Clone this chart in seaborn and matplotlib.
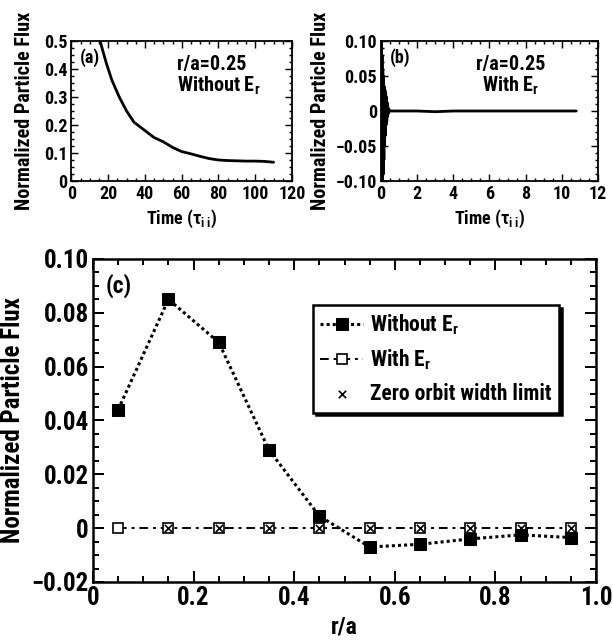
import matplotlib
matplotlib.use("Agg")
import matplotlib.pyplot as plt
from matplotlib import font_manager
from matplotlib.ticker import MultipleLocator
import pandas as pd
import seaborn as sns

# Panel (a): flux vs time at r/a=0.25, without Er
time_a = [14, 16, 19, 22, 26, 30, 34, 40, 45, 50, 55, 60, 65, 70,
          75, 80, 85, 90, 95, 100, 105, 110]
flux_a = [0.53, 0.49, 0.42, 0.36, 0.30, 0.25, 0.21, 0.18, 0.155, 0.14,
          0.12, 0.105, 0.097, 0.088, 0.080, 0.075, 0.073, 0.072, 0.071,
          0.071, 0.070, 0.067]

# Panel (b): flux vs time at r/a=0.25, with Er
time_b = [0.00, 0.02, 0.04, 0.06, 0.08, 0.10, 0.12, 0.14, 0.16, 0.18,
          0.20, 0.22, 0.24, 0.26, 0.28, 0.30, 0.32, 0.34, 0.36, 0.38,
          0.40, 0.45, 0.5, 1, 2, 3, 4, 5, 6, 7, 8, 9, 10, 10.8]
flux_b = [0.0, 0.10, -0.11, 0.08, -0.11, 0.06, -0.09, 0.05, -0.07, 0.035,
          -0.05, 0.03, -0.035, 0.025, -0.02, 0.02, -0.015, 0.012, -0.008,
          0.006, -0.004, 0.002, 0.0, 0.0, 0.0, -0.001, 0.0, 0.0, 0.0, 0.0,
          0.0, 0.0, 0.0, 0.0]

# Panel (c): flux profile vs r/a
r_a = [0.05, 0.15, 0.25, 0.35, 0.45, 0.55, 0.65, 0.75, 0.85, 0.95]
flux_without_er = [0.044, 0.085, 0.069, 0.029, 0.0045, -0.007, -0.006,
                   -0.004, -0.0025, -0.0035]
flux_with_er = [0, 0, 0, 0, 0, 0, 0, 0, 0, 0]
r_a_zero_orbit = [0.15, 0.25, 0.35, 0.45, 0.55, 0.65, 0.75, 0.85, 0.95]
flux_zero_orbit = [0, 0, 0, 0, 0, 0, 0, 0, 0]

# pick a narrow bold sans if one is installed
names = {f.name for f in font_manager.fontManager.ttflist}
narrow = None
for cand in ['Liberation Sans Narrow', 'Roboto Condensed', 'Open Sans Condensed',
             'DejaVu Sans Condensed', 'Roboto', 'Liberation Sans']:
    if cand in names:
        narrow = cand
        break
if narrow is None:
    narrow = 'DejaVu Sans'

sns.set_style("ticks")
plt.rcParams['font.family'] = [narrow, 'DejaVu Sans']
plt.rcParams['font.weight'] = 'bold'
plt.rcParams['font.stretch'] = 'condensed'
plt.rcParams['axes.labelweight'] = 'bold'
plt.rcParams['text.color'] = 'black'
plt.rcParams['axes.labelcolor'] = 'black'
plt.rcParams['mathtext.fontset'] = 'custom'
plt.rcParams['mathtext.rm'] = narrow + ':bold'
plt.rcParams['mathtext.it'] = narrow + ':bold'
plt.rcParams['mathtext.bf'] = narrow + ':bold'


def style_axes(ax, lw, fs, major_len, minor_len):
    for s in ax.spines.values():
        s.set_linewidth(lw)
        s.set_color('black')
    ax.tick_params(which='both', direction='in', top=True, right=True,
                   colors='black', labelsize=fs, width=lw * 0.8)
    ax.tick_params(which='major', length=major_len, pad=3)
    ax.tick_params(which='minor', length=minor_len)
    for lab in ax.get_xticklabels() + ax.get_yticklabels():
        lab.set_fontweight('bold')


fig = plt.figure(figsize=(6.13, 6.42), dpi=100)
ax_a = fig.add_axes([0.1166, 0.7181, 0.3597, 0.218])
ax_b = fig.add_axes([0.6215, 0.7181, 0.3540, 0.218])
ax_c = fig.add_axes([0.1517, 0.0935, 0.8206, 0.5031])

# (a)
df_a = pd.DataFrame({'t': time_a, 'flux': flux_a})
sns.lineplot(data=df_a, x='t', y='flux', ax=ax_a, color='black', lw=2,
             sort=False, estimator=None)
ax_a.set_xlim(0, 120)
ax_a.set_ylim(0, 0.5)
ax_a.xaxis.set_major_locator(MultipleLocator(20))
ax_a.xaxis.set_minor_locator(MultipleLocator(5))
ax_a.yaxis.set_minor_locator(MultipleLocator(0.025))
ax_a.set_yticks([0, 0.1, 0.2, 0.3, 0.4, 0.5], ['0', '0.1', '0.2', '0.3', '0.4', '0.5'])
style_axes(ax_a, 1.3, 13, 5, 2.5)
ax_a.set_xlabel(r'Time ($\tau_{\rm i\ i}$)', fontsize=13, labelpad=3)
ax_a.set_ylabel('Normalized Particle Flux', fontsize=14.5, labelpad=7)
ax_a.text(0.04, 0.95, '(a)', transform=ax_a.transAxes, fontsize=13,
          fontweight='bold', va='top', ha='left')
ax_a.text(0.48, 0.9, 'r/a=0.25\nWithout E$_{\\rm r}$', transform=ax_a.transAxes,
          fontsize=14.5, fontweight='bold', va='top', ha='left',
          multialignment='left', linespacing=1.05)

# (b)
df_b = pd.DataFrame({'t': time_b, 'flux': flux_b})
sns.lineplot(data=df_b, x='t', y='flux', ax=ax_b, color='black', lw=2,
             sort=False, estimator=None)
ax_b.set_xlim(0, 12)
ax_b.set_ylim(-0.10, 0.10)
ax_b.xaxis.set_major_locator(MultipleLocator(2))
ax_b.xaxis.set_minor_locator(MultipleLocator(0.5))
ax_b.yaxis.set_minor_locator(MultipleLocator(0.01))
ax_b.set_yticks([-0.10, -0.05, 0, 0.05, 0.10],
                ['\u22120.10', '\u22120.05', '0', '0.05', '0.10'])
style_axes(ax_b, 1.3, 13, 5, 2.5)
ax_b.set_xlabel(r'Time ($\tau_{\rm i\ i}$)', fontsize=13, labelpad=3)
ax_b.set_ylabel('Normalized Particle Flux', fontsize=14.5, labelpad=4)
ax_b.text(0.04, 0.95, '(b)', transform=ax_b.transAxes, fontsize=13,
          fontweight='bold', va='top', ha='left')
ax_b.text(0.60, 0.9, 'r/a=0.25\nWith E$_{\\rm r}$', transform=ax_b.transAxes,
          fontsize=14.5, fontweight='bold', va='top', ha='center', linespacing=1.05)

# (c)
df_c = pd.DataFrame({'r_a': r_a, 'without': flux_without_er, 'with': flux_with_er})
df_z = pd.DataFrame({'r_a': r_a_zero_orbit, 'zero': flux_zero_orbit})
sns.lineplot(data=df_c, x='r_a', y='with', ax=ax_c, color='black', lw=1.4,
             linestyle=(0, (4.5, 2.5, 1.5, 2.5)), marker='s', markersize=7,
             markerfacecolor='white', markeredgecolor='black',
             markeredgewidth=1.2, label='With E$_{\\rm r}$',
             sort=False, estimator=None)
sns.lineplot(data=df_c, x='r_a', y='without', ax=ax_c, color='black', lw=2.2,
             linestyle=(0, (1, 1)), marker='s', markersize=8.5,
             markerfacecolor='black', markeredgecolor='black',
             label='Without E$_{\\rm r}$', sort=False, estimator=None)
sns.scatterplot(data=df_z, x='r_a', y='zero', ax=ax_c, marker='x', s=28,
                color='black', linewidth=1.2, zorder=4,
                label='Zero orbit width limit')
ax_c.set_xlim(0, 1.0)
ax_c.set_ylim(-0.02, 0.10)
ax_c.xaxis.set_minor_locator(MultipleLocator(0.05))
ax_c.yaxis.set_minor_locator(MultipleLocator(0.005))
ax_c.set_xticks([0, 0.2, 0.4, 0.6, 0.8, 1.0], ['0', '0.2', '0.4', '0.6', '0.8', '1.0'])
ax_c.set_yticks([-0.02, 0, 0.02, 0.04, 0.06, 0.08, 0.10],
                ['\u22120.02', '0', '0.02', '0.04', '0.06', '0.08', '0.10'])
style_axes(ax_c, 1.8, 18, 8, 4)
ax_c.set_xlabel('r/a', fontsize=17, labelpad=4)
ax_c.set_ylabel('Normalized Particle Flux', fontsize=18, labelpad=5)
ax_c.text(0.025, 0.955, '(c)', transform=ax_c.transAxes, fontsize=17,
          fontweight='bold', va='top', ha='left')

handles, labels = ax_c.get_legend_handles_labels()
order = [1, 0, 2]
leg = ax_c.legend([handles[i] for i in order], [labels[i] for i in order],
                  loc='upper left', bbox_to_anchor=(0.437, 0.858),
                  fontsize=15.5, frameon=True, fancybox=False,
                  shadow={'color': 'black', 'alpha': 1},
                  handlelength=2.0, handletextpad=0.3, labelspacing=0.5,
                  borderpad=0.35, borderaxespad=0)
leg.get_frame().set_edgecolor('black')
leg.get_frame().set_linewidth(1.8)
for t in leg.get_texts():
    t.set_fontweight('bold')
    t.set_color('black')

fig.savefig('out.png', dpi=100)
